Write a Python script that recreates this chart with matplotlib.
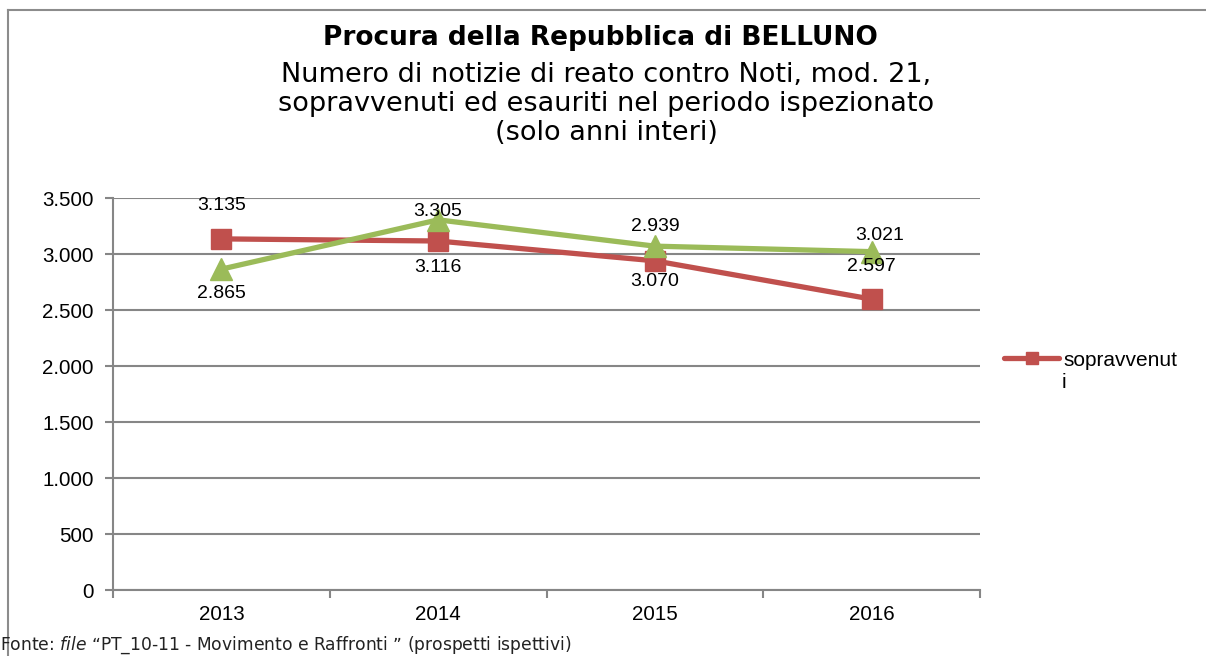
"""
Procura della Repubblica di BELLUNO - notizie di reato contro Noti, mod. 21.
Line chart, sopravvenuti vs esauriti, 2013-2016.
"""
import matplotlib
matplotlib.use("Agg")
import matplotlib.pyplot as plt
from matplotlib.lines import Line2D
from matplotlib.ticker import FuncFormatter

# ── data ──────────────────────────────────────────────────────────────────────
years       = ["2013", "2014", "2015", "2016"]
sopravvenuti = [3135, 3116, 2939, 2597]
esauriti     = [2865, 3305, 3070, 3021]

# data-label text as printed in the original (positions follow the source)
red_labels   = ["3.135", "3.116", "2.939", "2.597"]
green_labels = ["2.865", "3.305", "3.070", "3.021"]
# offsets in pixels (x, y) relative to each point
red_offsets   = [(0, 33), (0, -26), (0, 34), (0, 33)]
green_offsets = [(0, -24), (0, 8), (0, -35), (8, 16)]

RED   = "#C0504D"
GREEN = "#9BBB59"
GRID  = "#868686"

W, H = 1206, 656
fig = plt.figure(figsize=(W / 100, H / 100), dpi=100)
fig.patch.set_facecolor("white")

ax = fig.add_axes([113 / W, 1 - 590 / H, (980 - 113) / W, (590 - 198) / H])

x = list(range(len(years)))
ax.plot(x, sopravvenuti, color=RED, lw=3.8, marker="s", ms=14.5,
        markeredgecolor=RED, zorder=3)
ax.plot(x, esauriti, color=GREEN, lw=3.8, marker="^", ms=16,
        markeredgecolor=GREEN, zorder=4)

lab_font = dict(family="Liberation Sans", fontsize=14, color="black",
                ha="center", va="center")
for i, (v, t, off) in enumerate(zip(sopravvenuti, red_labels, red_offsets)):
    ax.annotate(t, (i, v), xytext=off, textcoords="offset pixels",
                zorder=6, **lab_font)
for i, (v, t, off) in enumerate(zip(esauriti, green_labels, green_offsets)):
    ax.annotate(t, (i, v), xytext=off, textcoords="offset pixels",
                zorder=6, **lab_font)

# axes styling
ax.set_xlim(-0.5, len(years) - 0.5)
ax.set_ylim(0, 3500)
ax.set_yticks(range(0, 3501, 500))
ax.yaxis.set_major_formatter(FuncFormatter(lambda v, p: f"{int(v):,}".replace(",", ".")))
ax.grid(axis="y", color=GRID, lw=1.5)
ax.set_axisbelow(True)
for s in ["top", "right"]:
    ax.spines[s].set_visible(False)
for s in ["left", "bottom"]:
    ax.spines[s].set_color(GRID)
    ax.spines[s].set_linewidth(1.5)

ax.set_xticks(x)
ax.set_xticklabels(years)
ax.set_xticks([i - 0.5 for i in range(len(years) + 1)], minor=True)
ax.tick_params(axis="x", which="major", length=0, pad=11)
ax.tick_params(axis="x", which="minor", length=6, width=1.5, color=GRID)
ax.tick_params(axis="y", length=6, width=1.5, color=GRID, pad=8)
for lbl in ax.get_xticklabels() + ax.get_yticklabels():
    lbl.set_family("Liberation Sans")
    lbl.set_fontsize(14.8)

# legend: only the first series is visible in the source; its label wraps
handles = [Line2D([], [], color=RED, lw=3.8, marker="s", ms=8,
                  solid_capstyle="round")]
leg = fig.legend(handles, ["sopravvenut"], loc="center left",
                 bbox_to_anchor=(994 / W, 1 - 360 / H), frameon=False,
                 handlelength=2.64, handletextpad=0.2, borderpad=0,
                 prop={"family": "Liberation Sans", "size": 15})
fig.text(1062 / W, 1 - 382 / H, "i", ha="left", va="center",
         family="Liberation Sans", fontsize=15)

# titles
fig.text(600 / W, 1 - 38 / H, "Procura della Repubblica di BELLUNO",
         ha="center", va="center", fontsize=19, fontweight="bold",
         family="DejaVu Sans")
fig.text(606 / W, 1 - 104 / H,
         "Numero di notizie di reato contro Noti, mod. 21,\n"
         "sopravvenuti ed esauriti nel periodo ispezionato\n"
         "(solo anni interi)",
         ha="center", va="center", fontsize=19.5, family="DejaVu Sans",
         linespacing=1.16)

# outer frame (left and top edges visible)
fig.add_artist(Line2D([8 / W, 8 / W], [0, 1 - 10 / H], color="#8C8C8C",
                      lw=1.5, transform=fig.transFigure))
fig.add_artist(Line2D([8 / W, 1], [1 - 10 / H, 1 - 10 / H], color="#8C8C8C",
                      lw=1.5, transform=fig.transFigure))

# source note
fig.text(0, 1 - 645 / H,
         "Fonte: $\\it{file}$ \u201cPT_10-11 - Movimento e Raffronti \u201d (prospetti ispettivi)",
         ha="left", va="center", fontsize=12.3, family="DejaVu Sans",
         color="#222222")

fig.savefig("out.png", dpi=100, facecolor="white")
